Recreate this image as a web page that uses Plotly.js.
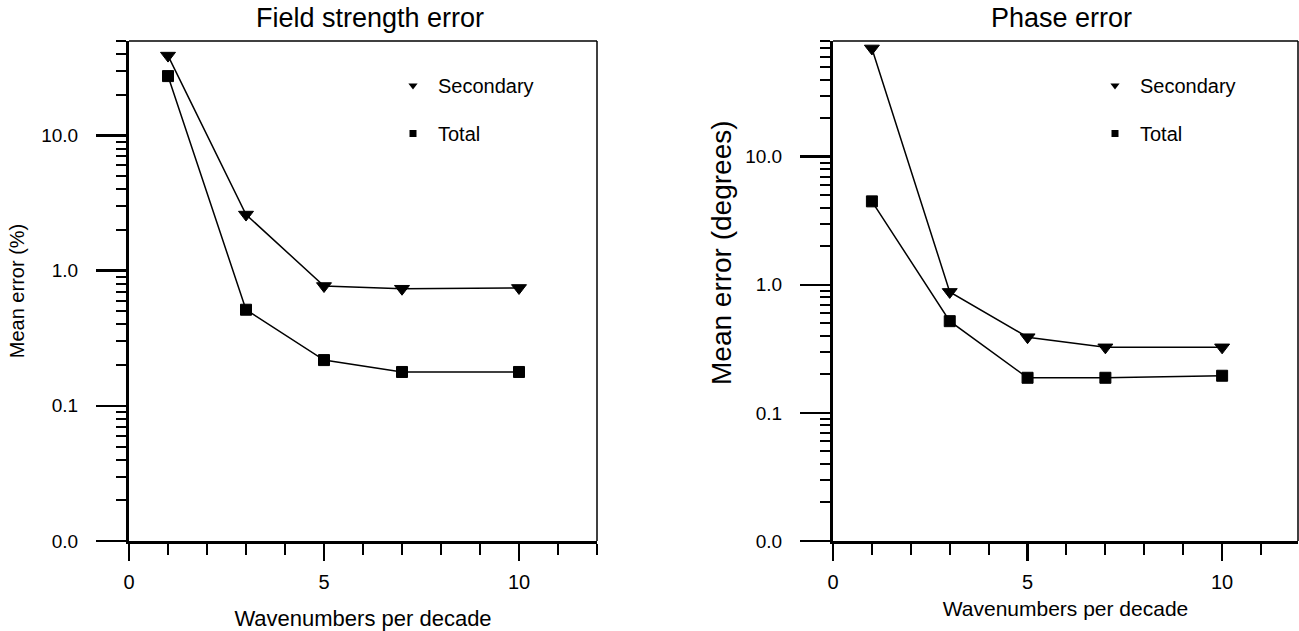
<!DOCTYPE html>
<html>
<head>
<meta charset="utf-8">
<script src="https://cdn.plot.ly/plotly-3.0.1.min.js"></script>
<style>
  html, body { margin: 0; padding: 0; background: #fff; }
  #chart { width: 1299px; height: 631px; }
</style>
</head>
<body>
<div id="chart"></div>
<script>
// ---- data ----
const wavenumbers = [1, 3, 5, 7, 10];
const fieldSecondary = [39, 2.6, 0.77, 0.735, 0.745];
const fieldTotal = [27.5, 0.514, 0.218, 0.178, 0.178];
const phaseSecondary = [70, 0.88, 0.39, 0.325, 0.325];
const phaseTotal = [4.48, 0.52, 0.188, 0.188, 0.195];

const seriesNames = ['Secondary', 'Total'];
const panelTitles = ['Field strength error', 'Phase error'];
const xTitle = 'Wavenumbers per decade';
const yTitles = ['Mean error (%)', 'Mean error (degrees)'];
const yTickVals = [0.01, 0.1, 1, 10];
const yTickText = ['0.0', '0.1', '1.0', '10.0'];
const xTickVals = [0, 5, 10];
const xMinorVals = [1, 2, 3, 4, 6, 7, 8, 9, 11, 12];
const yTopField = 50;
const yTopPhase = 80;

// ---- helpers ----
const W = 1299, H = 631;
const FONT = 'Liberation Sans, Arial, Helvetica, sans-serif';
function minorLog(maxV) {
  const out = [];
  for (let e = -2; e <= 1; e++) {
    for (let m = 2; m <= 9; m++) {
      const v = m * Math.pow(10, e);
      if (v <= maxV * 1.001) out.push(v);
    }
  }
  return out;
}

function lineTrace(x, y, sym, size, xa, ya) {
  return {
    x: x, y: y, xaxis: xa, yaxis: ya, type: 'scatter', mode: 'lines+markers',
    line: { color: '#000', width: 1.5 },
    marker: { symbol: sym, size: size, color: '#000', line: { color: '#000', width: 1 } },
    showlegend: false, hoverinfo: 'x+y'
  };
}
function legendTrace(x, y, sym, size, xa, ya, name, legendId, group) {
  return {
    x: x, y: y, xaxis: xa, yaxis: ya, type: 'scatter', mode: 'markers',
    name: name, legend: legendId, legendgroup: group,
    marker: { symbol: sym, size: size, color: '#000' },
    showlegend: true, hoverinfo: 'skip'
  };
}

const traces = [
  lineTrace(wavenumbers, fieldSecondary, 'triangle-down', 13, 'x', 'y'),
  lineTrace(wavenumbers, fieldTotal, 'square', 11, 'x', 'y'),
  lineTrace(wavenumbers, phaseSecondary, 'triangle-down', 13, 'x2', 'y2'),
  lineTrace(wavenumbers, phaseTotal, 'square', 11, 'x2', 'y2'),
  legendTrace(wavenumbers, fieldSecondary, 'triangle-down', 8, 'x', 'y', seriesNames[0], 'legend', 'a1'),
  legendTrace(wavenumbers, fieldTotal, 'square', 7, 'x', 'y', seriesNames[1], 'legend', 'a2'),
  legendTrace(wavenumbers, phaseSecondary, 'triangle-down', 8, 'x2', 'y2', seriesNames[0], 'legend2', 'b1'),
  legendTrace(wavenumbers, phaseTotal, 'square', 7, 'x2', 'y2', seriesNames[1], 'legend2', 'b2')
];

function xAxis(domain, range, anchor, titleSize, standoff) {
  return {
    domain: domain, range: range, anchor: anchor,
    tickmode: 'array', tickvals: xTickVals,
    ticks: 'outside', ticklen: 17, tickwidth: 2.5, tickcolor: '#000',
    ticklabelstandoff: 4,
    minor: { tickmode: 'array', tickvals: xMinorVals, ticks: 'outside', ticklen: 11, tickwidth: 2, tickcolor: '#000', showgrid: false },
    showline: true, linewidth: 3, linecolor: '#000',
    showgrid: false, zeroline: false,
    tickfont: { family: FONT, size: 20, color: '#000' },
    title: { text: xTitle, font: { family: FONT, size: titleSize, color: '#000' }, standoff: standoff },
    fixedrange: true
  };
}
function yAxis(domain, top, anchor, title, titleSize, standoff) {
  return {
    type: 'log', domain: domain, range: [-2, Math.log10(top)], anchor: anchor,
    tickmode: 'array', tickvals: yTickVals, ticktext: yTickText,
    ticks: 'outside', ticklen: 30, tickwidth: 2.5, tickcolor: '#000',
    ticklabelstandoff: 14,
    minor: { tickmode: 'array', tickvals: minorLog(top), ticks: 'outside', ticklen: 10, tickwidth: 2, tickcolor: '#000', showgrid: false },
    showline: true, linewidth: 3, linecolor: '#000',
    showgrid: false, zeroline: false,
    tickfont: { family: FONT, size: 19, color: '#000' },
    title: { text: title, font: { family: FONT, size: titleSize, color: '#000' }, standoff: standoff },
    fixedrange: true
  };
}

const yDomain = [(H - 541) / H, (H - 41) / H];

function borderShapes(xr, yr) {
  return [
    { type: 'line', xref: xr + ' domain', yref: yr + ' domain', x0: 0, x1: 1, y0: 1, y1: 1, line: { color: '#000', width: 1.5 } },
    { type: 'line', xref: xr + ' domain', yref: yr + ' domain', x0: 1, x1: 1, y0: 0, y1: 1, line: { color: '#000', width: 1.5 } }
  ];
}

const legendCommon = {
  xanchor: 'left', yanchor: 'top', bgcolor: 'rgba(0,0,0,0)', borderwidth: 0,
  font: { family: FONT, size: 20, color: '#000' },
  traceorder: 'grouped', tracegroupgap: 19, itemwidth: 40
};

const rightY = yAxis(yDomain, yTopPhase, 'x2', '', 26, 8);

const layout = {
  width: W, height: H,
  margin: { l: 0, r: 0, t: 0, b: 0 },
  paper_bgcolor: '#fff', plot_bgcolor: '#fff',
  font: { family: FONT, color: '#000' },
  xaxis: xAxis([129 / W, 597 / W], [0, 12], 'y', 22, 23),
  yaxis: yAxis(yDomain, yTopField, 'x', yTitles[0], 20, 12),
  xaxis2: xAxis([833 / W, 1298 / W], [0, 11.95], 'y2', 21, 10),
  yaxis2: rightY,
  legend: Object.assign({ x: 388 / W, y: (H - 66) / H }, legendCommon),
  legend2: Object.assign({ x: 1090 / W, y: (H - 66) / H }, legendCommon),
  shapes: borderShapes('x', 'y').concat(borderShapes('x2', 'y2')),
  annotations: [
    { text: panelTitles[0], xref: 'paper', yref: 'paper', x: 370 / W, y: (H - 18) / H, xanchor: 'center', yanchor: 'middle', showarrow: false, font: { family: FONT, size: 27, color: '#000' } },
    { text: panelTitles[1], xref: 'paper', yref: 'paper', x: 1061 / W, y: (H - 18) / H, xanchor: 'center', yanchor: 'middle', showarrow: false, font: { family: FONT, size: 27, color: '#000' } },
    { text: yTitles[1], xref: 'paper', yref: 'paper', x: 721 / W, y: (H - 253) / H, xanchor: 'center', yanchor: 'middle', textangle: -90, showarrow: false, font: { family: FONT, size: 28, color: '#000' } }
  ],
  showlegend: true
};

Plotly.newPlot('chart', traces, layout, { displayModeBar: false, staticPlot: true });
</script>
</body>
</html>
